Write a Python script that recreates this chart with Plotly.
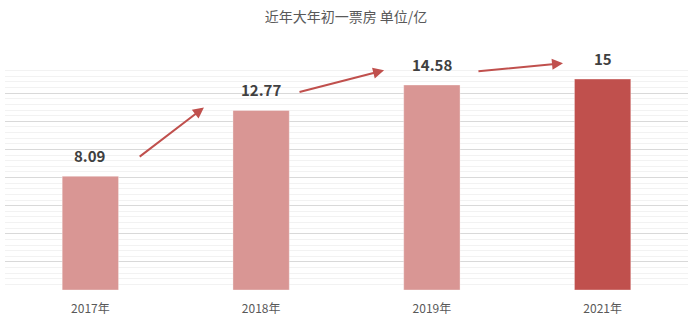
import plotly.graph_objects as go

years = ["2017年", "2018年", "2019年", "2021年"]
box_office = [8.09, 12.77, 14.58, 15]
bar_colors = ["#D99694", "#D99694", "#D99694", "#C0504D"]
title_text = "近年大年初一票房 单位/亿"

# trend arrows: (x0, y0, x1, y1) in data coordinates (category index, value)
arrows = [
    (0.28, 9.4, 0.665, 12.98),
    (1.216, 14.05, 1.72, 15.62),
    (2.264, 15.55, 2.768, 16.12),
]

font_family = "Noto Sans CJK SC, Noto Sans, sans-serif"

fig = go.Figure()
fig.add_trace(go.Bar(
    x=list(range(len(years))),
    y=box_office,
    marker=dict(color=bar_colors, line=dict(color="rgba(255,255,255,0.35)", width=1)),
    width=0.33,
    hoverinfo="skip",
))

for i, v in enumerate(box_office):
    fig.add_annotation(
        x=i, y=v, xref="x", yref="y", text=f"<b>{v:g}</b>",
        showarrow=False, yanchor="bottom", yshift=8,
        font=dict(size=15, color="#404040", family=font_family),
    )

for x0, y0, x1, y1 in arrows:
    fig.add_annotation(
        x=x1, y=y1, ax=x0, ay=y0,
        xref="x", yref="y", axref="x", ayref="y",
        showarrow=True, arrowhead=2, arrowsize=1.1, arrowwidth=2,
        arrowcolor="#C0504D", text="",
    )

fig.update_layout(
    width=692, height=330,
    margin=dict(l=5, r=4, t=65, b=40),
    paper_bgcolor="white", plot_bgcolor="white",
    showlegend=False,
    title=dict(text=title_text, x=0.5, xanchor="center", y=0.947, yanchor="middle",
               font=dict(size=14, color="#595959", family=font_family)),
    xaxis=dict(
        tickmode="array", tickvals=list(range(len(years))), ticktext=years,
        range=[-0.5, len(years) - 0.5],
        showgrid=False, zeroline=False, showline=False,
        tickfont=dict(size=12, color="#595959", family=font_family),
        ticks="", ticklabelstandoff=10,
    ),
    yaxis=dict(
        range=[0, 16], dtick=2, showticklabels=False,
        showgrid=True, gridcolor="#D9D9D9", gridwidth=1,
        zeroline=False, showline=False, ticks="",
        minor=dict(dtick=0.4, showgrid=True, gridcolor="#F2F2F2", gridwidth=1),
    ),
)

fig.write_html("out.html")
